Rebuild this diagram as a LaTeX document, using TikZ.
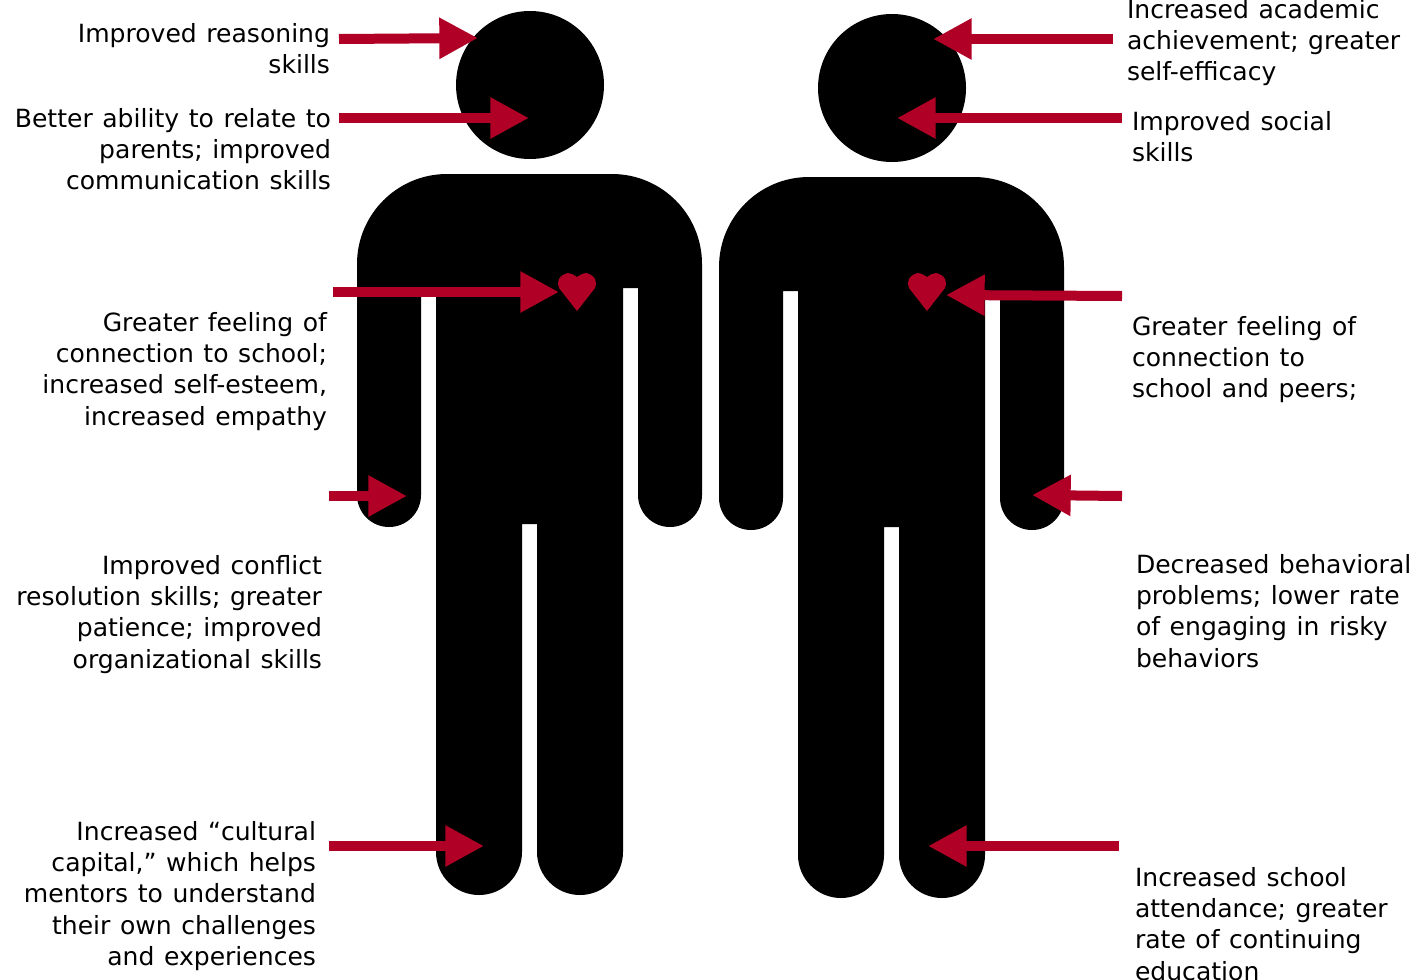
\documentclass[tikz,border=0pt]{standalone}
\usepackage{fontspec}
\setmainfont[WordSpace=1.2]{DejaVu Sans}
\usetikzlibrary{arrows.meta}
\definecolor{arrowred}{HTML}{B00026}
\tikzset{
 x=0.75pt,y=-0.75pt,
 lab/.style={inner sep=0pt,outer sep=0pt,font=\fontsize{18.8}{23.6}\selectfont,align=#1},
 lab/.default=left,
 arr/.style={draw=arrowred,line width=7.5pt,-{Triangle[length=29pt,width=29pt]}},
}
\newcommand{\person}[2]{%
 \begin{scope}[shift={(#1,#2)}]
 \fill[black] (530,85) circle[radius=74];
 \fill[black] (357,495) -- (357,264) arc[start angle=180,end angle=270,radius=90] -- (612,174)
  arc[start angle=270,end angle=360,radius=90]
  -- (702,495) arc[start angle=0,end angle=180,radius=32] -- (638,288) -- (623,288)
  -- (623,852) arc[start angle=0,end angle=180,radius=43] -- (537,524) -- (522,524)
  -- (522,852) arc[start angle=0,end angle=180,radius=43] -- (436,288) -- (421,288)
  -- (421,495) arc[start angle=0,end angle=180,radius=32] -- cycle;
 \end{scope}}
\newcommand{\heart}[2]{%
 \fill[arrowred] (#1,#2+38) -- (#1-18,#2+15) .. controls (#1-21,#2+9) and (#1-18,#2+2) .. (#1-9,#2)
  .. controls (#1-6,#2) and (#1-3,#2+2) .. (#1,#2+4) .. controls (#1+3,#2+2) and (#1+6,#2) .. (#1+9,#2)
  .. controls (#1+18,#2+2) and (#1+21,#2+9) .. (#1+18,#2+15) -- cycle;}
\begin{document}
\begin{tikzpicture}
\useasboundingbox (0,0) rectangle (1427,979);
\person{0}{0}
\person{362}{3}
\heart{577}{273}
\heart{927}{273}
\node[lab=right,anchor=north east] (a1) at (330,23) {Improved reasoning\\skills};
\node[lab=right,anchor=north east] (a2) at (331,108) {Better ability to relate to\\parents; improved\\communication skills};
\node[lab=right,anchor=north east] (a3) at (327,312) {Greater feeling of\\connection to school;\\increased self-esteem,\\increased empathy};
\node[lab=right,anchor=north east] (a4) at (322,555) {Improved conflict\\resolution skills; greater\\patience; improved\\organizational skills};
\node[lab=right,anchor=north east] (a5) at (316,821) {Increased “cultural\\capital,” which helps\\mentors to understand\\their own challenges\\and experiences};
\node[lab=left,anchor=north west] (b1) at (1127,-1) {Increased academic\\achievement; greater\\self-efficacy};
\node[lab=left,anchor=north west] (b2) at (1132,111) {Improved social\\skills};
\node[lab=left,anchor=north west] (b3) at (1132,316) {Greater feeling of\\connection to\\school and peers;};
\node[lab=left,anchor=north west] (b4) at (1136,554) {Decreased behavioral\\problems; lower rate\\of engaging in risky\\behaviors};
\node[lab=left,anchor=north west] (b5) at (1135,867) {Increased school\\attendance; greater\\rate of continuing\\education};
\coordinate (s1) at (339,39); \coordinate (e1) at (478,38);
\coordinate (s2) at (339,118); \coordinate (e2) at (529,118);
\coordinate (s3) at (333,292); \coordinate (e3) at (559,292);
\coordinate (s4) at (329,496); \coordinate (e4) at (407,496);
\coordinate (s5) at (329,846); \coordinate (e5) at (484,846);
\coordinate (t1) at (1113,39); \coordinate (f1) at (933,39);
\coordinate (t2) at (1122,118); \coordinate (f2) at (897,118);
\coordinate (t3) at (1122,296); \coordinate (f3) at (946,295);
\coordinate (t4) at (1122,496); \coordinate (f4) at (1032,495);
\coordinate (t5) at (1119,846); \coordinate (f5) at (928,846);
\foreach \i in {1,...,5}{
 \draw[arr] (s\i) -- (e\i);
 \draw[arr] (t\i) -- (f\i);
}
\end{tikzpicture}
\end{document}
